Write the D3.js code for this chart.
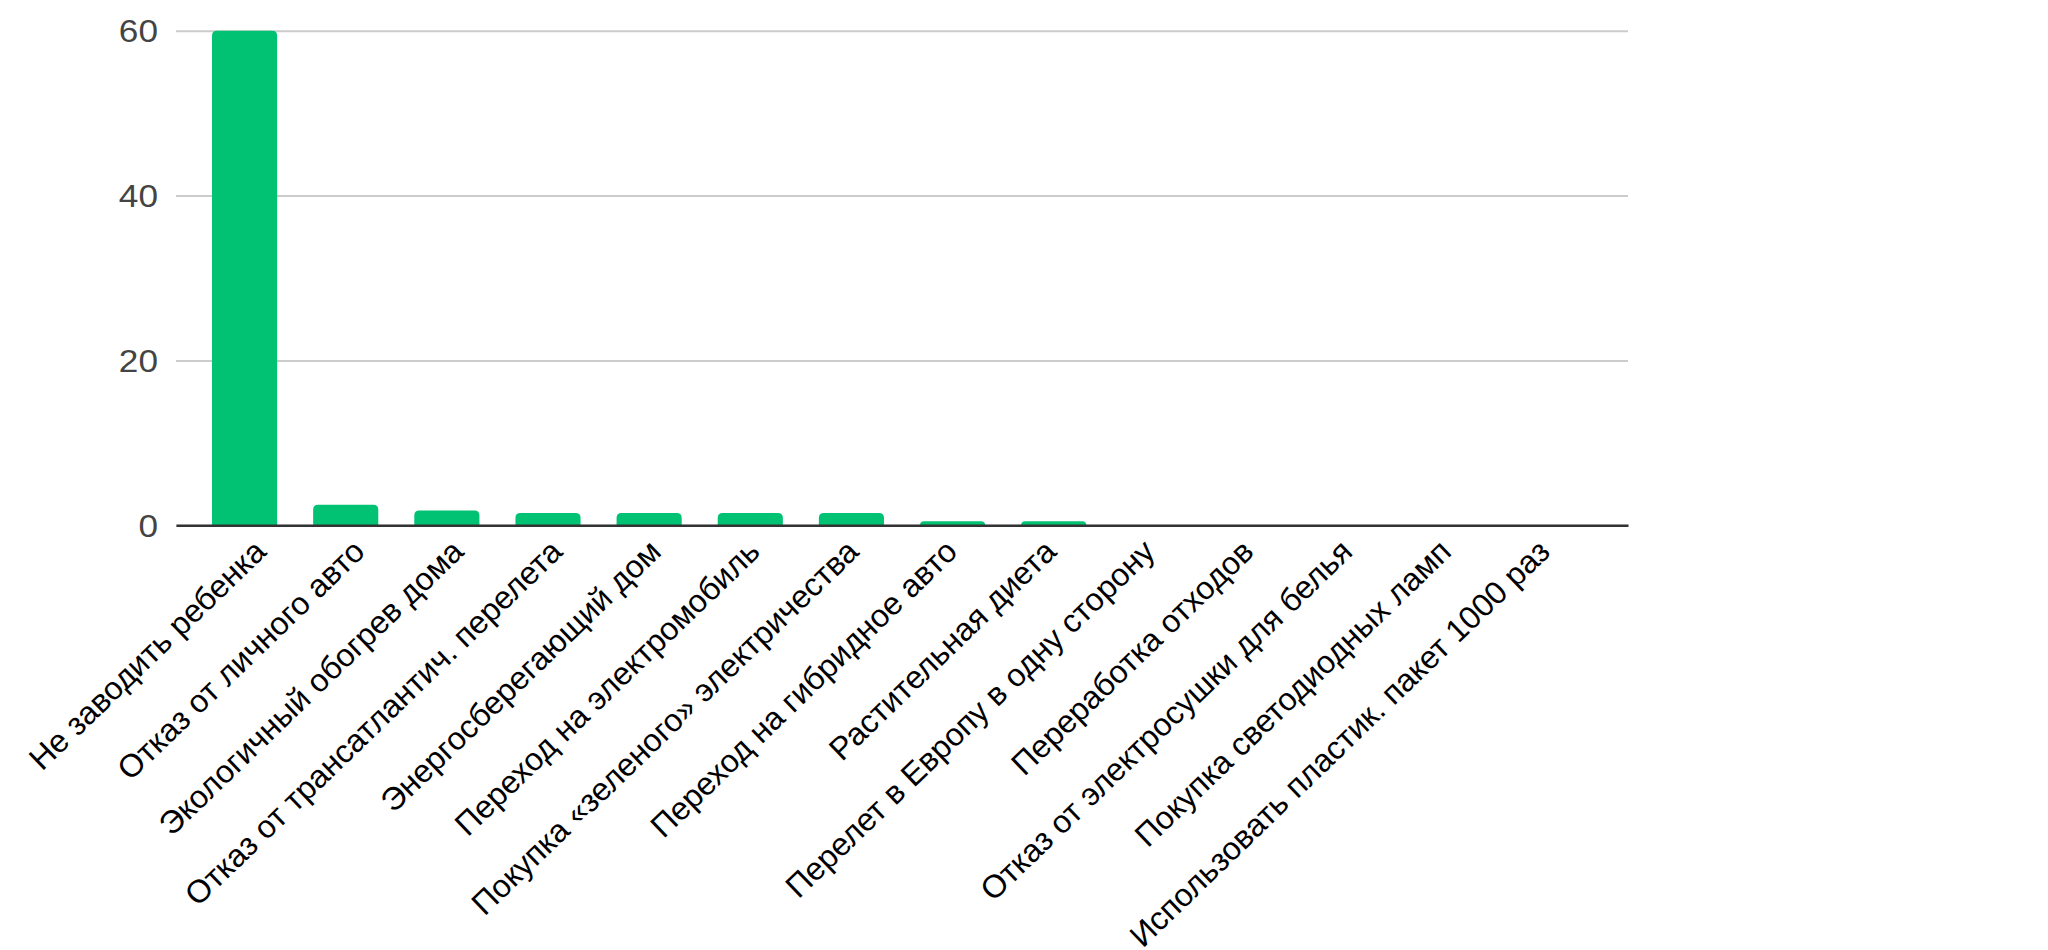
<!DOCTYPE html>
<html>
<head>
<meta charset="utf-8">
<script src="https://cdn.jsdelivr.net/npm/d3@7"></script>
<style>
  html, body { margin: 0; padding: 0; background: #ffffff; }
  svg { display: block; }
</style>
</head>
<body>
<svg id="chart" width="2048" height="950"></svg>
<script>
// ---- data ----
const categories = [
  "Не заводить ребенка",
  "Отказ от личного авто",
  "Экологичный обогрев дома",
  "Отказ от трансатлантич. перелета",
  "Энергосберегающий дом",
  "Переход на электромобиль",
  "Покупка «зеленого» электричества",
  "Переход на гибридное авто",
  "Растительная диета",
  "Перелет в Европу в одну сторону",
  "Переработка отходов",
  "Отказ от электросушки для белья",
  "Покупка светодиодных ламп",
  "Использовать пластик. пакет 1000 раз"
];
const values = [60, 2.5, 1.8, 1.5, 1.5, 1.5, 1.5, 0.5, 0.5, 0, 0, 0, 0, 0];
const yTicks = [0, 20, 40, 60];

// ---- layout ----
const plotLeft = 176, plotRight = 1628, plotTop = 30.7, plotBottom = 525.3;
const svg = d3.select("#chart");

const x = d3.scaleBand()
  .domain(categories)
  .range([plotLeft, plotRight])
  .paddingInner(0.356)
  .paddingOuter(0.356);

// label anchor positions (slanted labels sit slightly tighter than the bars)
const xLabel = d3.scalePoint()
  .domain(categories)
  .range([250, 1534]);

const y = d3.scaleLinear()
  .domain([0, 60])
  .range([plotBottom, plotTop]);

// gridlines + y labels
const yAxis = d3.axisLeft(y)
  .tickValues(yTicks)
  .tickSize(-(plotRight - plotLeft))
  .tickPadding(18)
  .tickFormat(d3.format("d"));

const gy = svg.append("g")
  .attr("transform", `translate(${plotLeft},0)`)
  .call(yAxis);
gy.select(".domain").remove();
gy.selectAll(".tick line")
  .attr("stroke", "#cccccc")
  .attr("stroke-width", 2);
gy.selectAll(".tick text")
  .attr("font-family", "'Liberation Sans', Arial, sans-serif")
  .attr("font-size", 32)
  .attr("fill", "#444444")
  .attr("x", null)
  .attr("text-anchor", "end")
  .attr("transform", "translate(-18,0) scale(1.1,1)")
  .attr("dy", "0.35em");

// bars with rounded top corners
const r = 5;
function barPath(d, i) {
  const x0 = x(categories[i]);
  const w = x.bandwidth();
  const yt = y(d);
  const yb = y(0);
  const h = yb - yt;
  if (h <= 0) return "";
  const rr = Math.min(r, h, w / 2);
  return `M${x0},${yb} L${x0},${yt + rr} Q${x0},${yt} ${x0 + rr},${yt} ` +
         `L${x0 + w - rr},${yt} Q${x0 + w},${yt} ${x0 + w},${yt + rr} L${x0 + w},${yb} Z`;
}
svg.append("g")
  .selectAll("path")
  .data(values)
  .join("path")
  .attr("d", barPath)
  .attr("fill", "#01c273");

// baseline
const xAxis = d3.axisBottom(x).tickSize(0).tickFormat(() => "");
const gx = svg.append("g")
  .attr("transform", `translate(0,${y(0)})`)
  .call(xAxis);
gx.select(".domain")
  .attr("stroke", "#333333")
  .attr("stroke-width", 2.5);

// rotated category labels
svg.append("g")
  .selectAll("text")
  .data(categories)
  .join("text")
  .attr("transform", d => `translate(${xLabel(d)},${y(0) + 10}) rotate(-44)`)
  .attr("text-anchor", "end")
  .attr("dy", "0.8em")
  .attr("font-family", "'Liberation Sans', Arial, sans-serif")
  .attr("font-size", 32)
  .attr("fill", "#000000")
  .text(d => d);
</script>
</body>
</html>
